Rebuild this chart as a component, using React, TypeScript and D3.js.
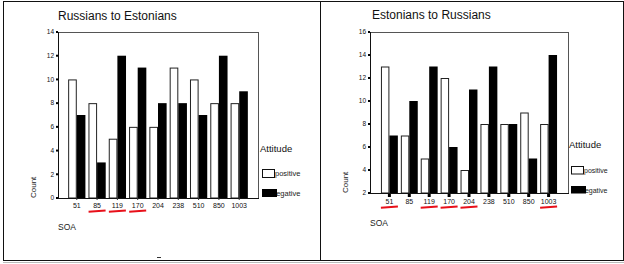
import React from "react";
import * as d3 from "d3";

const categories = ["51", "85", "119", "170", "204", "238", "510", "850", "1003"];
const rusToEstPositive = [10, 8, 5, 6, 6, 11, 10, 8, 8];
const rusToEstNegative = [7, 3, 12, 11, 8, 8, 7, 12, 9];
const estToRusPositive = [13, 7, 5, 12, 4, 8, 8, 9, 8];
const estToRusNegative = [7, 10, 13, 6, 11, 13, 8, 5, 14];
const rusToEstTicks = [0, 2, 4, 6, 8, 10, 12, 14];
const estToRusTicks = [2, 4, 6, 8, 10, 12, 14, 16];
const rusToEstHighlighted = ["85", "119", "170"];
const estToRusHighlighted = ["51", "119", "170", "204", "1003"];
const legendLabels = ["positive", "negative"];

const FONT = "'Liberation Sans', Arial, sans-serif";

type PanelProps = {
  title: string;
  positive: number[];
  negative: number[];
  ticks: number[];
  highlighted: string[];
  x0: number;
  x1: number;
  yTop: number;
  yBottom: number;
  domain: [number, number];
  paddingOuter: number;
  titleX: number;
  titleY: number;
  labelOffset: number;
  underlineY: number;
  soaY: number;
  countX: number;
  legendX: number;
  attitudeY: number;
  box1Y: number;
  box2Y: number;
  boxW: number;
  boxH: number;
  legendFont: number;
  bigTicks: boolean;
};

function Panel(p: PanelProps) {
  const x = d3
    .scaleBand<string>()
    .domain(categories)
    .range([p.x0, p.x1])
    .paddingInner(0.15)
    .paddingOuter(p.paddingOuter);
  const y = d3.scaleLinear().domain(p.domain).range([p.yBottom, p.yTop]);
  const bw = x.bandwidth() / 2;
  return (
    <g fontFamily={FONT}>
      <text x={p.titleX} y={p.titleY} fontSize={12} fill="#111">
        {p.title}
      </text>
      {/* frame */}
      <line x1={p.x0} x2={p.x1} y1={p.yTop + 0.5} y2={p.yTop + 0.5} stroke="#555" />
      <line x1={p.x1 + 0.5} x2={p.x1 + 0.5} y1={p.yTop} y2={p.yBottom} stroke="#555" />
      {/* bars */}
      {categories.map((c, i) => {
        const bx = x(c)!;
        const yp = y(p.positive[i]);
        const yn = y(p.negative[i]);
        return (
          <g key={c}>
            <rect
              x={bx + 0.5}
              y={yp + 0.5}
              width={bw - 1}
              height={p.yBottom - yp - 0.5}
              fill="#fff"
              stroke="#222"
              strokeWidth={1}
            />
            <rect x={bx + bw} y={yn} width={bw} height={p.yBottom - yn} fill="#000" />
          </g>
        );
      })}
      {/* axes */}
      <line x1={p.x0 + 0.5} x2={p.x0 + 0.5} y1={p.yTop} y2={p.yBottom + 1} stroke="#111" />
      <line x1={p.x0} x2={p.x1 + 1} y1={p.yBottom + 0.5} y2={p.yBottom + 0.5} stroke="#111" />
      {p.ticks.map((t) => (
        <g key={t}>
          <rect x={p.x0 - 2} y={y(t) - 1} width={2} height={2} fill="#000" />
          <text
            x={p.x0 - 4}
            y={y(t) + 2.3}
            fontSize={6.5}
            textAnchor="end"
            fill="#111"
          >
            {t}
          </text>
        </g>
      ))}
      {categories.map((c) => {
        const cx = x(c)! + x.bandwidth() / 2;
        return (
          <g key={c}>
            {p.bigTicks ? (
              <rect x={cx - 1.5} y={p.yBottom + 1} width={3} height={3} fill="#000" />
            ) : (
              <line x1={cx} x2={cx} y1={p.yBottom} y2={p.yBottom + 2} stroke="#333" />
            )}
            <text
              x={cx}
              y={p.yBottom + p.labelOffset}
              fontSize={7}
              textAnchor="middle"
              fill="#111"
            >
              {c}
            </text>
          </g>
        );
      })}
      {p.highlighted.map((c) => {
        const cx = x(c)! + x.bandwidth() / 2;
        return (
          <line
            key={c}
            x1={cx - 8.5}
            x2={cx + 8.5}
            y1={p.underlineY + 0.8}
            y2={p.underlineY - 0.5}
            stroke="#e8101a"
            strokeWidth={2}
          />
        );
      })}
      <text x={p.x0} y={p.soaY} fontSize={8.5} fill="#222">
        SOA
      </text>
      <text
        transform={`translate(${p.countX},${p.yBottom}) rotate(-90)`}
        fontSize={8}
        fill="#222"
      >
        Count
      </text>
      {/* legend */}
      <text x={p.legendX} y={p.attitudeY} fontSize={9.5} fill="#111">
        Attitude
      </text>
      <text x={p.legendX + p.boxW + 1} y={p.box1Y + p.boxH - 1} fontSize={p.legendFont} fill="#222">
        {legendLabels[0]}
      </text>
      <text x={p.legendX + p.boxW - 2} y={p.box2Y + p.boxH - 1} fontSize={p.legendFont} fill="#222">
        {legendLabels[1]}
      </text>
      <rect
        x={p.legendX + 2.5}
        y={p.box1Y + 0.5}
        width={p.boxW - 2}
        height={p.boxH}
        fill="#fff"
        stroke="#111"
      />
      <rect x={p.legendX + 2} y={p.box2Y} width={p.boxW + 1} height={p.boxH} fill="#000" />
    </g>
  );
}

export default function App() {
  return (
    <svg
      width={624}
      height={264}
      style={{ position: "absolute", left: 0, top: 0, background: "#fff" }}
    >
      <rect x={0} y={0} width={624} height={264} fill="#fff" />
      {/* outer frame */}
      <line x1={3.5} x2={3.5} y1={1} y2={261} stroke="#111" />
      <line x1={3} x2={624} y1={1.5} y2={1.5} stroke="#111" />
      <line x1={3} x2={624} y1={260.5} y2={260.5} stroke="#111" />
      <line x1={3} x2={624} y1={262.5} y2={262.5} stroke="#bbb" />
      <line x1={320.5} x2={320.5} y1={1} y2={261} stroke="#111" />
      <line x1={623.5} x2={623.5} y1={1} y2={261} stroke="#111" />
      <line x1={157} x2={161} y1={257.5} y2={257.5} stroke="#333" />
      <Panel
        title="Russians to Estonians"
        positive={rusToEstPositive}
        negative={rusToEstNegative}
        ticks={rusToEstTicks}
        highlighted={rusToEstHighlighted}
        x0={58}
        x1={258}
        yTop={32}
        yBottom={198}
        domain={[0, 14]}
        paddingOuter={0.5}
        titleX={58}
        titleY={20}
        labelOffset={10}
        underlineY={211}
        soaY={230}
        countX={36}
        legendX={260}
        attitudeY={152}
        box1Y={169}
        box2Y={189}
        boxW={14}
        boxH={8}
        legendFont={7.5}
        bigTicks={false}
      />
      <Panel
        title="Estonians to Russians"
        positive={estToRusPositive}
        negative={estToRusNegative}
        ticks={estToRusTicks}
        highlighted={estToRusHighlighted}
        x0={370}
        x1={568}
        yTop={32}
        yBottom={193}
        domain={[2, 16]}
        paddingOuter={0.55}
        titleX={372}
        titleY={19}
        labelOffset={10.5}
        underlineY={207}
        soaY={226}
        countX={348}
        legendX={569}
        attitudeY={148}
        box1Y={166}
        box2Y={186}
        boxW={14}
        boxH={7.5}
        legendFont={7}
        bigTicks={true}
      />
    </svg>
  );
}
